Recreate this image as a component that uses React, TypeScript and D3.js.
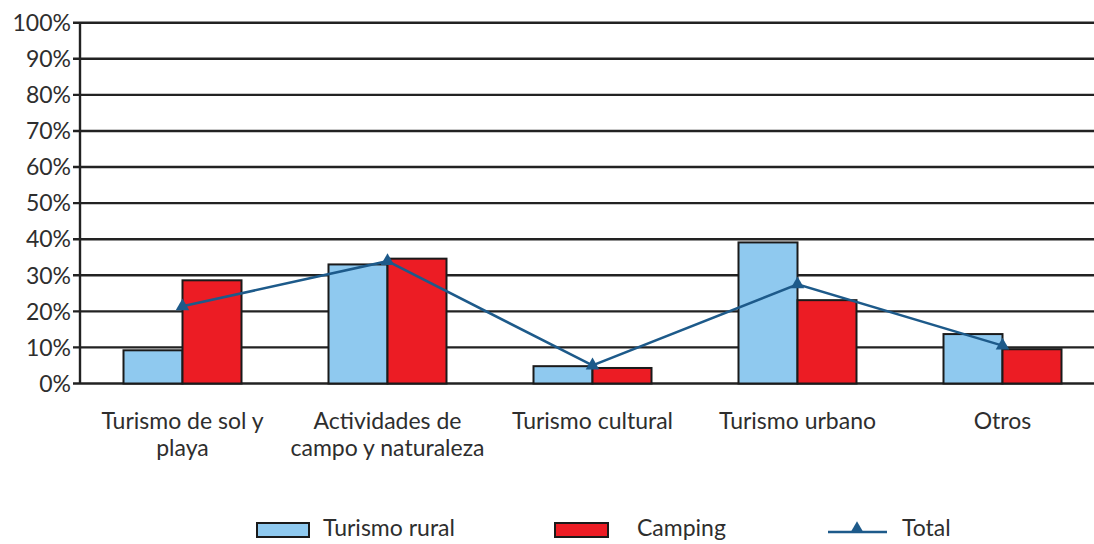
import React from "react";
import * as d3 from "d3";

const categories: string[][] = [
  ["Turismo de sol y", "playa"],
  ["Actividades de", "campo y naturaleza"],
  ["Turismo cultural"],
  ["Turismo urbano"],
  ["Otros"],
];
const rural = [9.2, 33, 4.8, 39.1, 13.7];
const camping = [28.6, 34.6, 4.3, 23.1, 9.5];
const total = [21.4, 33.9, 5.0, 27.5, 10.5];
const yTicks = [0, 10, 20, 30, 40, 50, 60, 70, 80, 90, 100];
const legendLabels = ["Turismo rural", "Camping", "Total"];

const W = 1094;
const H = 544;
const FONT = "Lato, 'Open Sans', sans-serif";
const BLUE = "#8fc9ef";
const RED = "#ec1c24";
const LINE = "#1d5a8a";
const TEXT = "#2e2e2e";

export default function App() {
  const x = d3.scaleBand<number>().domain(d3.range(categories.length)).range([80, 1105]);
  const y = d3.scaleLinear().domain([0, 100]).range([383.5, 22.7]);
  const bw = 59;
  const cx = (i: number) => (x(i) as number) + x.bandwidth() / 2;
  const line = d3
    .line<number>()
    .x((_, i) => cx(i))
    .y((d) => y(d));
  const tri = d3.symbol().type(d3.symbolTriangle).size(80);

  return (
    <svg
      width={W}
      height={H}
      style={{ position: "absolute", left: 0, top: 0, background: "#fff" }}
      fontFamily={FONT}
    >
      {yTicks.map((t) => (
        <g key={t}>
          <line x1={73} x2={W} y1={y(t)} y2={y(t)} stroke="#222" strokeWidth={2.4} />
          <text x={71} y={y(t)} dy="0.36em" textAnchor="end" fontSize={23} fill={TEXT}>
            {t}%
          </text>
        </g>
      ))}
      <line x1={80} x2={80} y1={y(100)} y2={y(0)} stroke="#222" strokeWidth={2.4} />
      {categories.map((c, i) => (
        <g key={i}>
          <rect
            x={cx(i) - bw}
            y={y(rural[i])}
            width={bw}
            height={y(0) - y(rural[i])}
            fill={BLUE}
            stroke="#1a1a1a"
            strokeWidth={2}
          />
          <rect
            x={cx(i)}
            y={y(camping[i])}
            width={bw}
            height={y(0) - y(camping[i])}
            fill={RED}
            stroke="#1a1a1a"
            strokeWidth={2}
          />
          <text textAnchor="middle" fontSize={23} fill={TEXT}>
            {c.map((l, k) => (
              <tspan key={k} x={cx(i)} y={429 + k * 27}>
                {l}
              </tspan>
            ))}
          </text>
        </g>
      ))}
      <path d={line(total) || ""} fill="none" stroke={LINE} strokeWidth={2.5} />
      {total.map((v, i) => (
        <path key={i} d={tri() || ""} transform={`translate(${cx(i)},${y(v)})`} fill={LINE} />
      ))}
      <g>
        <rect x={257} y={523} width={52} height={14} fill={BLUE} stroke="#1a1a1a" strokeWidth={2} />
        <text x={323} y={536} fontSize={23} fill={TEXT}>{legendLabels[0]}</text>
        <rect x={555} y={523} width={53} height={14} fill={RED} stroke="#1a1a1a" strokeWidth={2} />
        <text x={637} y={536} fontSize={23} fill={TEXT}>{legendLabels[1]}</text>
        <line x1={828} x2={887} y1={532} y2={532} stroke={LINE} strokeWidth={2.5} />
        <path d={tri() || ""} transform="translate(857,529)" fill={LINE} />
        <text x={902} y={536} fontSize={23} fill={TEXT}>{legendLabels[2]}</text>
      </g>
    </svg>
  );
}
